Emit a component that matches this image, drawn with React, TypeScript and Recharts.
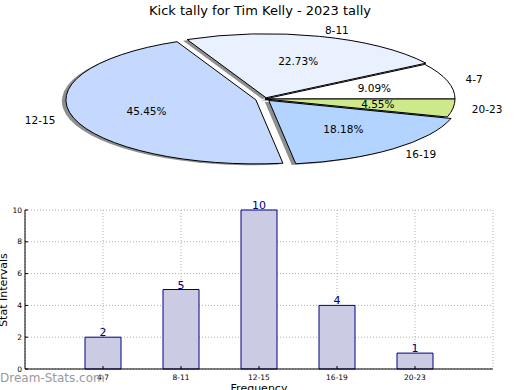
import React from "react";
import { PieChart, Pie, Cell, BarChart, Bar, XAxis, YAxis, CartesianGrid, LabelList } from "recharts";

// kick tally per interval
const categories = ["4-7", "8-11", "12-15", "16-19", "20-23"];
const kickCounts = [2, 5, 10, 4, 1];
const yTicks = [0, 2, 4, 6, 8, 10];

const sliceColors = ["#ffffff", "#eaf1fe", "#c5d8fe", "#b3d4fe", "#cde98a"];
const sliceExplode = [0, 0.02, 0.05, 0.03, 0];

const FONT = "'DejaVu Sans', sans-serif";
const FLAT = 64 / 190; // vertical squash of the pie
const RAD = Math.PI / 180;
const NAVY = "#000080";

const pieData = categories.map((name, i) => ({ name, value: kickCounts[i] }));
const barData = categories.map((name, i) => ({ name, count: kickCounts[i] }));

function wedgeGeom(p: any) {
  const idx = categories.indexOf(p.payload?.name ?? p.name);
  const e = sliceExplode[idx] ?? 0;
  const mid = (p.midAngle ?? (p.startAngle + p.endAngle) / 2) * RAD;
  const rx = p.outerRadius;
  const ry = p.outerRadius * FLAT;
  return {
    ox: p.cx + e * rx * Math.cos(mid),
    oy: p.cy - e * ry * Math.sin(mid),
    rx,
    ry,
    mid,
  };
}

function wedgePath(p: any, dx = 0, dy = 0) {
  const g = wedgeGeom(p);
  const cx = g.ox + dx;
  const cy = g.oy + dy;
  const a0 = Math.min(p.startAngle, p.endAngle) * RAD;
  const a1 = Math.max(p.startAngle, p.endAngle) * RAD;
  const x0 = cx + g.rx * Math.cos(a0);
  const y0 = cy - g.ry * Math.sin(a0);
  const x1 = cx + g.rx * Math.cos(a1);
  const y1 = cy - g.ry * Math.sin(a1);
  const large = a1 - a0 > Math.PI ? 1 : 0;
  return `M${cx},${cy} L${x0},${y0} A${g.rx},${g.ry} 0 ${large} 0 ${x1},${y1} Z`;
}

const Wedge = (p: any) => <path d={wedgePath(p)} fill={p.fill} stroke="#000" strokeWidth={1} strokeLinejoin="round" />;

const WedgeShadow = (p: any) => <path d={wedgePath(p, -4, 1.3)} fill="#333" fillOpacity={0.55} stroke="none" />;

function sliceLabel(p: any) {
  const g = wedgeGeom(p);
  const c = Math.cos(g.mid);
  const s = Math.sin(g.mid);
  return (
    <g>
      <text x={g.ox + 0.6 * g.rx * c} y={g.oy - 0.6 * g.ry * s} textAnchor="middle" dominantBaseline="central" fontSize={10.5} fontFamily={FONT} fill="#000">
        {(p.percent * 100).toFixed(2)}%
      </text>
      <text x={g.ox + 1.1 * g.rx * c} y={g.oy - 1.1 * g.ry * s} textAnchor={c >= 0 ? "start" : "end"} dominantBaseline="central" fontSize={10.5} fontFamily={FONT} fill="#000">
        {p.name}
      </text>
    </g>
  );
}

export default function App() {
  return (
    <div style={{ position: "absolute", top: 0, left: 0, width: 520, height: 390, overflow: "hidden", fontFamily: FONT, background: "#fff" }}>
      <div style={{ position: "absolute", top: 0, left: 0 }}>
        <PieChart width={520} height={195} margin={{ top: 0, right: 0, bottom: 0, left: 0 }}>
          <Pie data={pieData} dataKey="value" nameKey="name" cx={265} cy={99} outerRadius={190} startAngle={0} endAngle={360}
            shape={WedgeShadow} activeShape={WedgeShadow} inactiveShape={WedgeShadow} isAnimationActive={false} label={false} labelLine={false}>
            {pieData.map((d, i) => <Cell key={d.name} fill={sliceColors[i]} />)}
          </Pie>
          <Pie data={pieData} dataKey="value" nameKey="name" cx={265} cy={99} outerRadius={190} startAngle={0} endAngle={360}
            shape={Wedge} activeShape={Wedge} inactiveShape={Wedge} isAnimationActive={false} label={sliceLabel} labelLine={false}>
            {pieData.map((d, i) => <Cell key={d.name} fill={sliceColors[i]} />)}
          </Pie>
        </PieChart>
      </div>

      <div style={{ position: "absolute", top: 195, left: 0 }}>
        <BarChart width={520} height={195} data={barData} margin={{ top: 15, right: 27, bottom: 0, left: 5 }}>
          <XAxis dataKey="name" height={21} padding={{ left: 39, right: 39 }} stroke="#000" tickSize={-3} tickMargin={9}
            tick={{ fontSize: 7.5, fill: "#000", fontFamily: FONT }} />
          <XAxis xAxisId="top" dataKey="name" orientation="top" height={0} stroke="#000" tick={false} tickLine={false} />
          <YAxis domain={[0, 10]} ticks={yTicks} width={20} stroke="#000" tickSize={-3} tickMargin={6}
            tick={{ fontSize: 7.5, fill: "#000", fontFamily: FONT }} />
          <YAxis yAxisId="right" orientation="right" width={0} domain={[0, 10]} stroke="#000" tick={false} tickLine={false} />
          <Bar dataKey="count" barSize={36} fill="#cbcbe3" stroke={NAVY} strokeWidth={1} isAnimationActive={false}>
            <LabelList dataKey="count" position="top" offset={1} fill={NAVY} fontSize={11} fontFamily={FONT} />
          </Bar>
          <CartesianGrid stroke="#b0b0b0" strokeDasharray="1 2" />
        </BarChart>
      </div>

      <div style={{ position: "absolute", top: 3, left: 0, width: 520, textAlign: "center", fontSize: 13, lineHeight: "15px", color: "#000", whiteSpace: "nowrap" }}>
        Kick tally for Tim Kelly - 2023 tally
      </div>
      <div style={{ position: "absolute", left: 4, top: 290, width: 0, height: 0 }}>
        <div style={{ position: "absolute", left: -60, top: -7, width: 120, textAlign: "center", fontSize: 11, lineHeight: "14px", whiteSpace: "nowrap", transform: "rotate(-90deg)", color: "#000" }}>
          Stat Intervals
        </div>
      </div>
      <div style={{ position: "absolute", left: 0, top: 382, width: 520, textAlign: "center", paddingLeft: 0, fontSize: 11, lineHeight: "14px", color: "#000" }}>
        <span style={{ position: "relative", left: -1 }}>Frequency</span>
      </div>
      <div style={{ position: "absolute", top: 370, left: 0, fontSize: 12, lineHeight: "16px", color: "#999", whiteSpace: "nowrap" }}>
        Dream-Stats.com
      </div>
    </div>
  );
}
